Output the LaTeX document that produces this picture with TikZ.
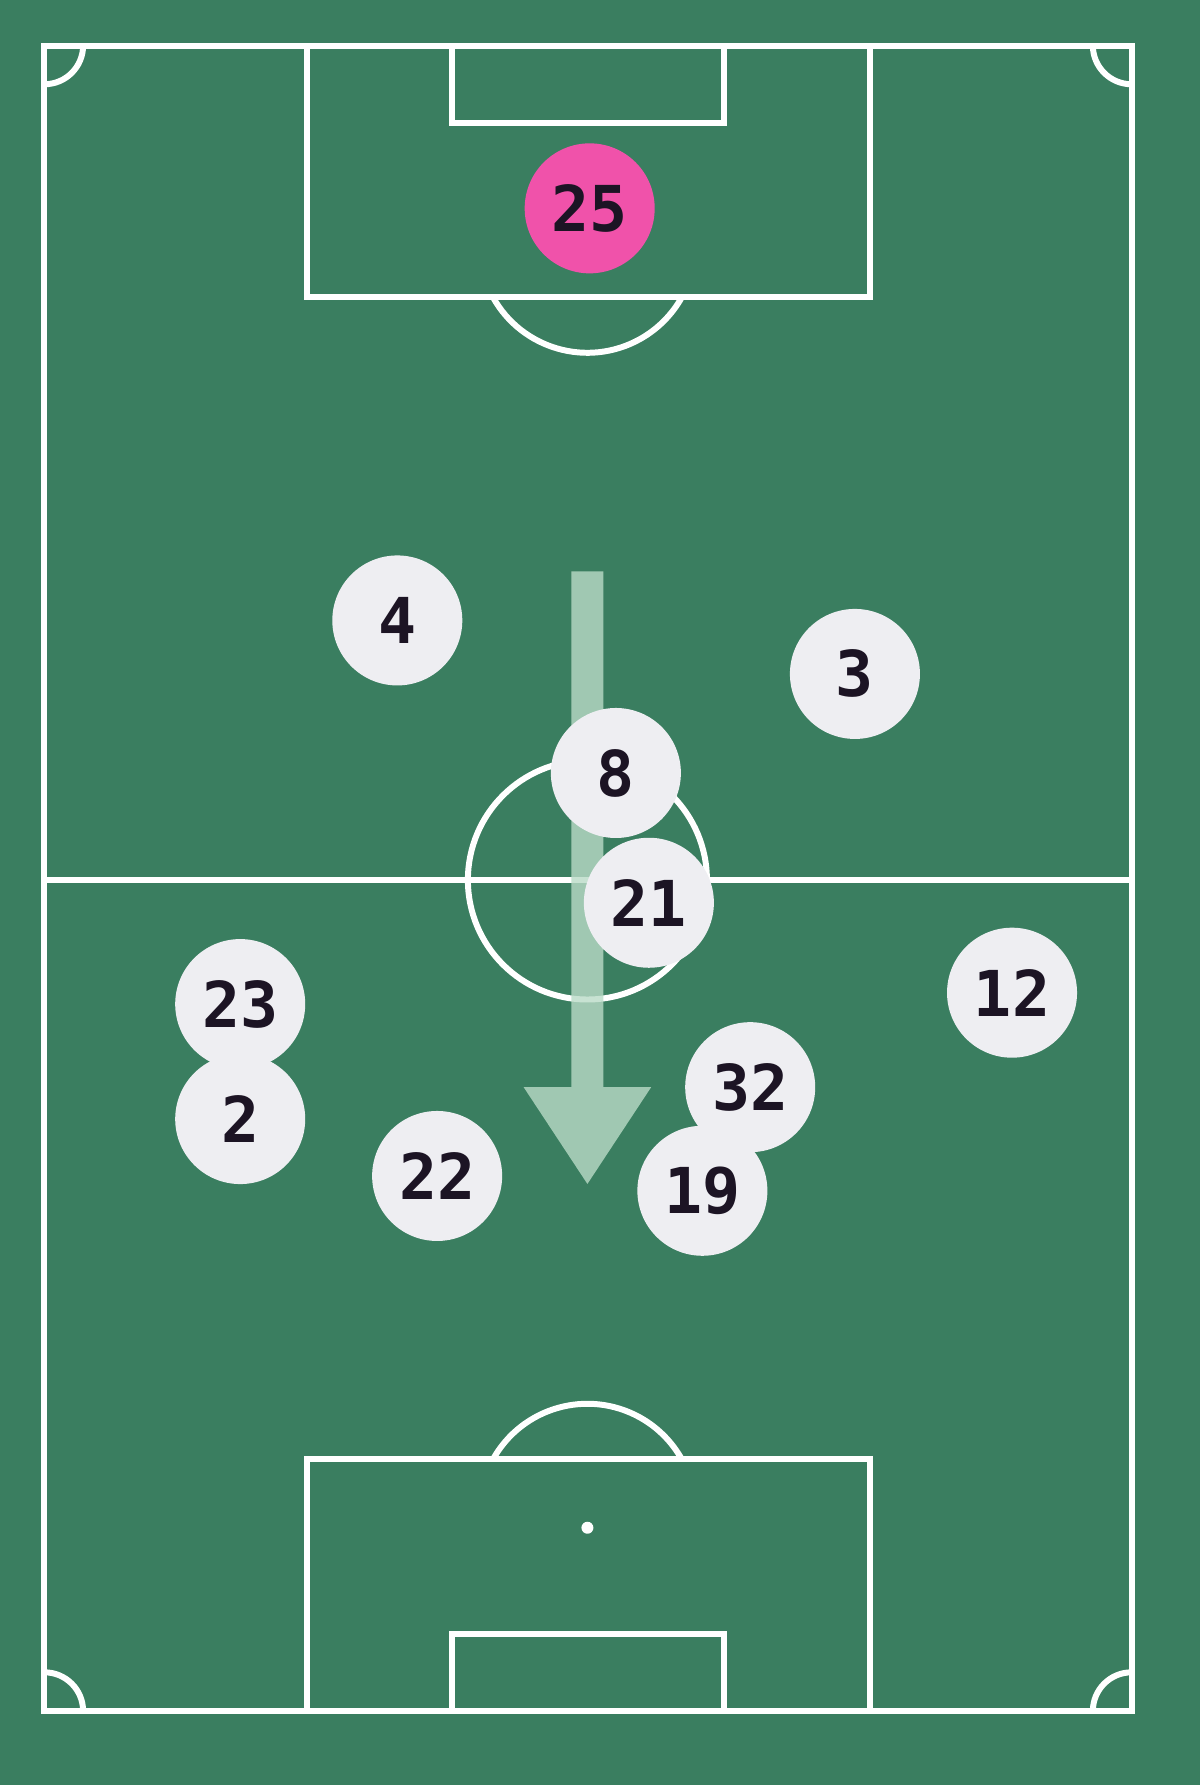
\documentclass[tikz,border=0pt]{standalone}
\usepackage{fontspec}
\newfontfamily\numfont{DejaVu Sans Mono}
\definecolor{pitchgreen}{HTML}{3A7E60}
\definecolor{arrowgreen}{RGB}{186,219,199}
\definecolor{plfill}{HTML}{EEEEF2}
\definecolor{plpink}{HTML}{F052AA}
\definecolor{plnum}{HTML}{1C1424}
\begin{document}
\begin{tikzpicture}[x=0.011385cm,y=-0.011385cm,
  line/.style={draw=white,line width=1.7pt},
  player/.style={circle,fill=plfill,minimum size=1.30cm,inner sep=0pt,text=plnum,
    font=\numfont\bfseries\fontsize{18}{18}\selectfont},
  keeper/.style={player,fill=plpink}]
\pgfmathsetmacro{\fl}{39}
\pgfmathsetmacro{\fr}{994}
\pgfmathsetmacro{\ft}{40}
\pgfmathsetmacro{\fb}{1503}
\pgfmathsetmacro{\fmid}{773}
\pgfmathsetmacro{\fcx}{516}
\fill[pitchgreen](0,0) rectangle (1054,1568);
% pitch lines
\draw[line](\fl,\ft) rectangle (\fr,\fb);
\draw[line](\fl,\fmid)--(\fr,\fmid);
\draw[line](\fcx,\fmid) circle[radius=1.195cm];
\draw[line](270,\ft) rectangle (764,261);
\draw[line](397,\ft) rectangle (636,108);
\draw[line](270,\fb) rectangle (764,1282);
\draw[line](397,\fb) rectangle (636,1435);
\draw[line](433,261) arc(209:331:1.08cm);
\draw[line](433,1282) arc(151:29:1.08cm);
\fill[white](\fcx,1342) circle[radius=0.06cm];
% corners
\draw[line](\fl+34,\ft) arc(0:-90:0.387cm);
\draw[line](\fr-34,\ft) arc(180:270:0.387cm);
\draw[line](\fl,\fb-34) arc(90:0:0.387cm);
\draw[line](\fr-34,\fb) arc(180:90:0.387cm);
% direction of play
\fill[arrowgreen,fill opacity=0.8](502,502)--(530,502)--(530,955)--(572,955)--(516,1040)--(460,955)--(502,955)--cycle;
% players
\node[keeper](p25) at (518,183) {25};
\foreach \n/\x/\y in {4/349/545,3/751/592,8/541/679,21/570/793,12/889/872,23/211/882,32/659/955,2/211/983,22/384/1033,19/617/1046}
  {\node[player](p\n) at (\x,\y) {\n};}
\end{tikzpicture}
\end{document}
